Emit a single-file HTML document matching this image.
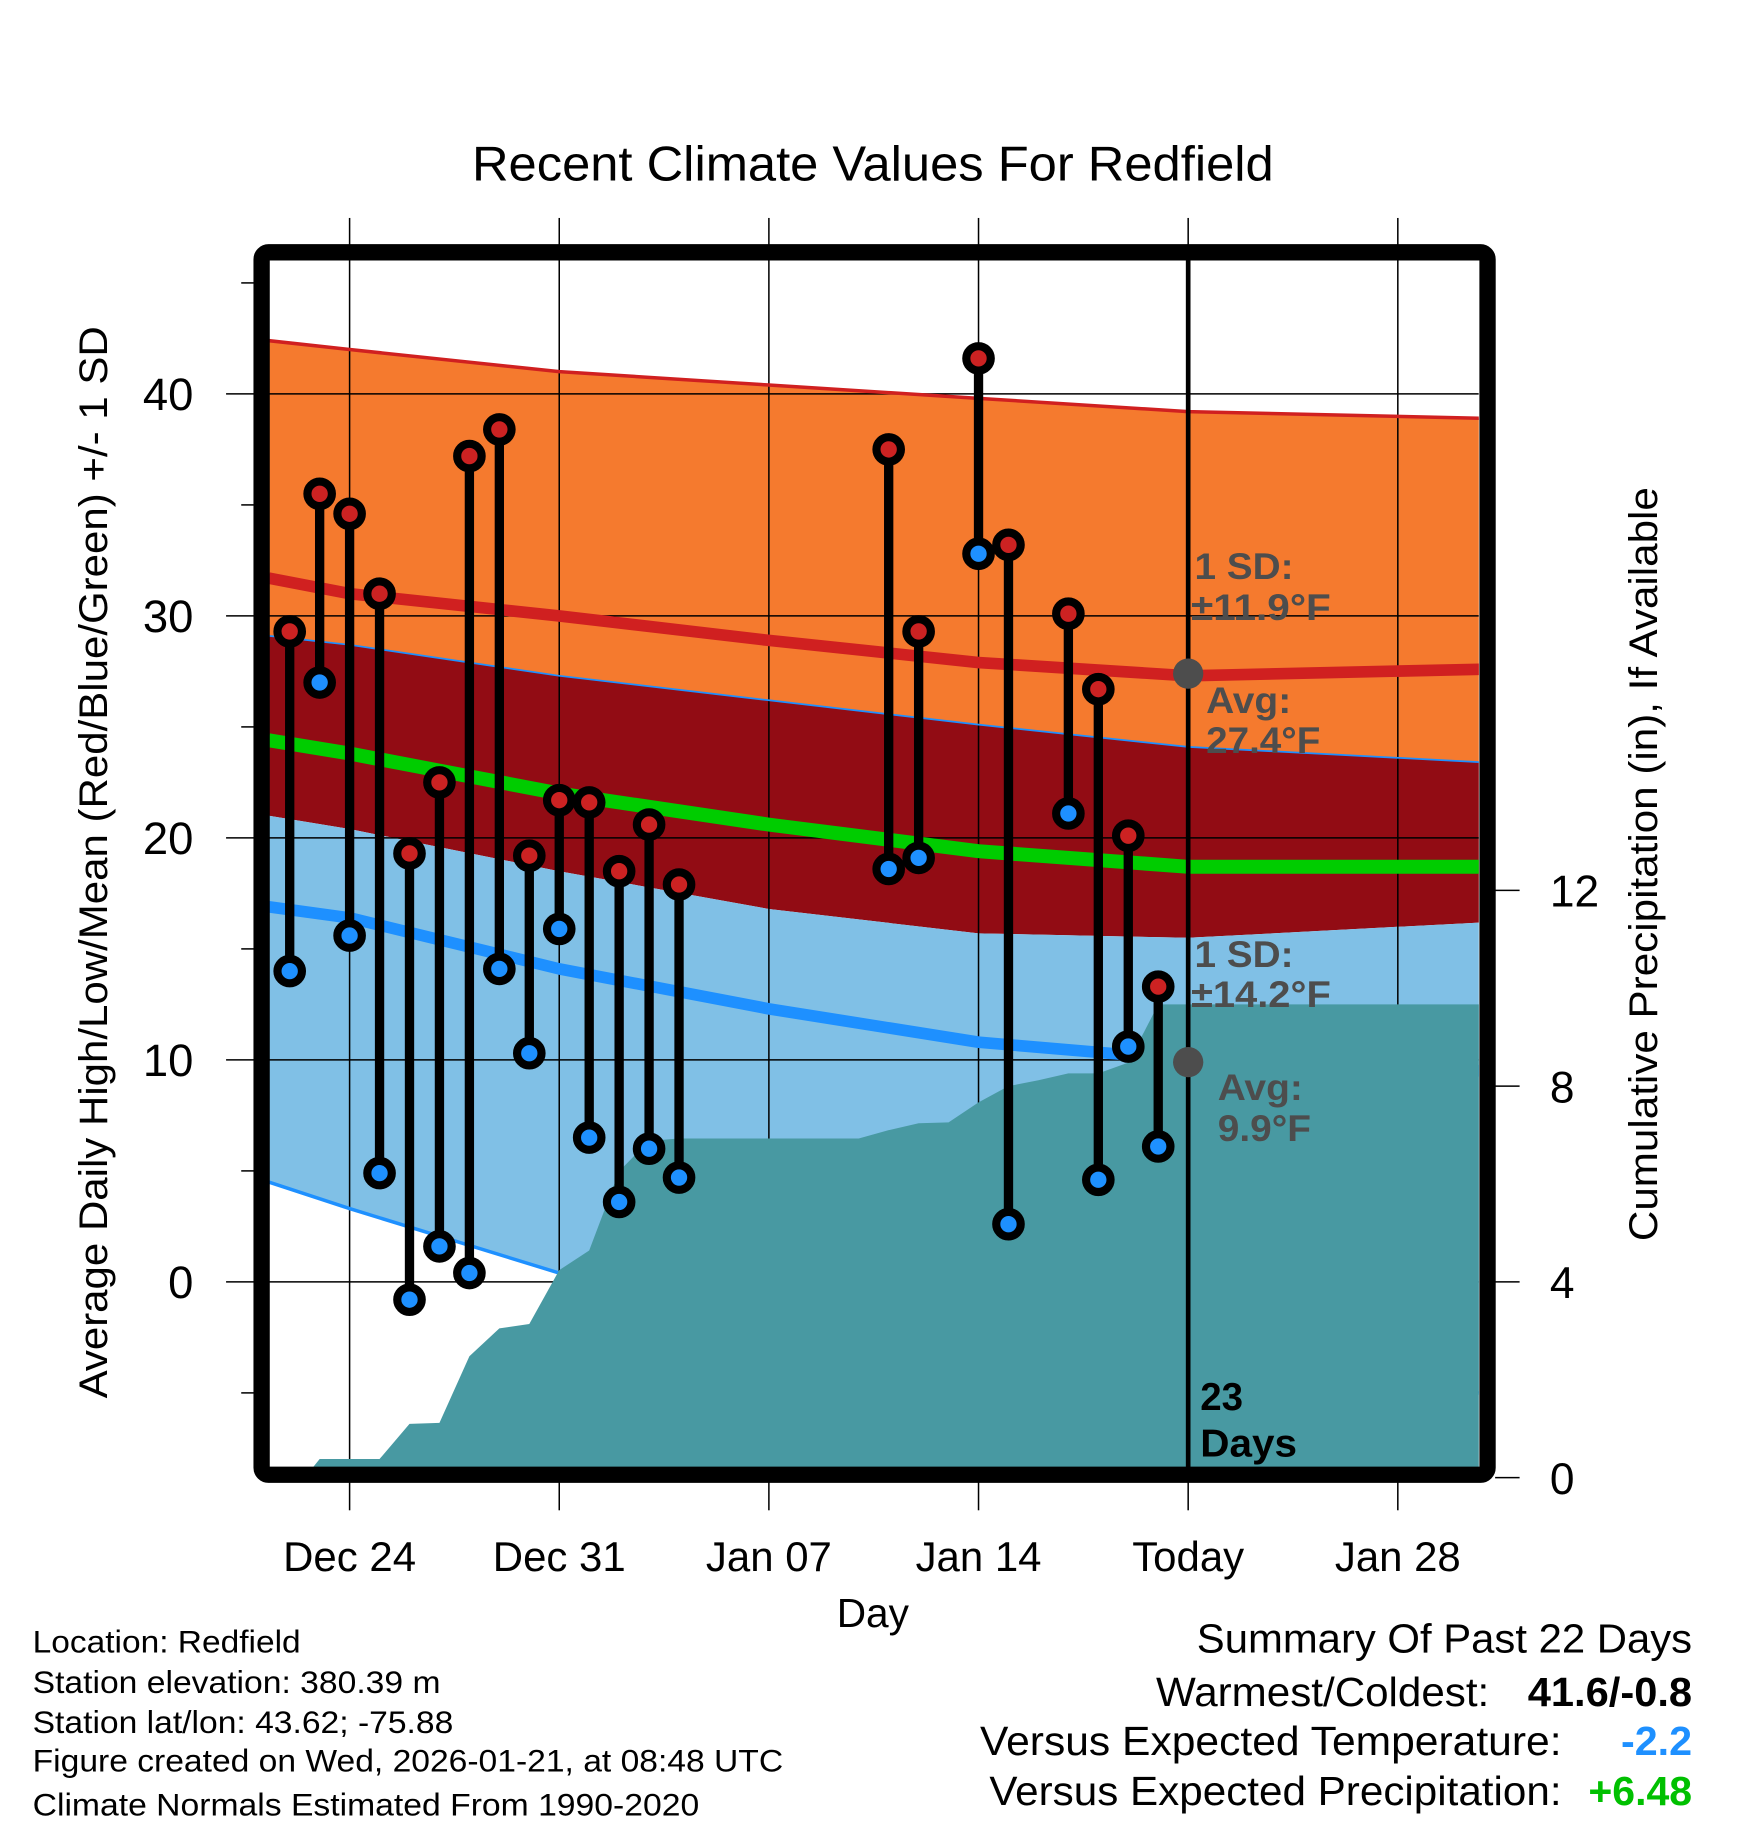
<!DOCTYPE html>
<html><head><meta charset="utf-8">
<style>
html,body{margin:0;padding:0;background:#fff;}
svg{display:block;font-family:"Liberation Sans",Arial,sans-serif;}
</style></head>
<body>
<svg id="chart" width="1748" height="1828" viewBox="0 0 1500 1568.6" xmlns="http://www.w3.org/2000/svg">
<defs><clipPath id="plotclip"><rect x="231" y="223" width="1038" height="1036"/></clipPath></defs>
<rect x="0" y="0" width="1500" height="1569" fill="#fff"/>
<text x="405" y="155" font-size="42" textLength="688" lengthAdjust="spacingAndGlyphs">Recent Climate Values For Redfield</text>
<g id="bands" clip-path="url(#plotclip)"></g>
<g id="grid" clip-path="url(#plotclip)"></g>
<g id="lines" clip-path="url(#plotclip)"></g>
<g id="precip" clip-path="url(#plotclip)"></g>
<g id="ticks"></g>
<g id="marks" clip-path="url(#plotclip)"></g>
<g id="annot" font-weight="bold" fill="#4d4d4d" font-size="32">
  <text x="1025" y="497" textLength="85" lengthAdjust="spacingAndGlyphs">1 SD:</text>
  <text x="1022" y="532" textLength="120" lengthAdjust="spacingAndGlyphs">±11.9°F</text>
  <text x="1035" y="612" textLength="73" lengthAdjust="spacingAndGlyphs">Avg:</text>
  <text x="1035" y="646" textLength="98" lengthAdjust="spacingAndGlyphs">27.4°F</text>
  <text x="1025" y="830" textLength="85" lengthAdjust="spacingAndGlyphs">1 SD:</text>
  <text x="1022" y="864" textLength="120" lengthAdjust="spacingAndGlyphs">±14.2°F</text>
  <text x="1045" y="944" textLength="73" lengthAdjust="spacingAndGlyphs">Avg:</text>
  <text x="1045" y="979" textLength="80" lengthAdjust="spacingAndGlyphs">9.9°F</text>
</g>
<g font-weight="bold" font-size="33" fill="#000">
  <text x="1030" y="1210">23</text>
  <text x="1030" y="1250" textLength="83" lengthAdjust="spacingAndGlyphs">Days</text>
</g>
<rect x="224.5" y="216.5" width="1052" height="1049" rx="6" fill="none" stroke="#000" stroke-width="14"/>
<text transform="translate(92,1200) rotate(-90)" font-size="34" textLength="920" lengthAdjust="spacingAndGlyphs">Average Daily High/Low/Mean (Red/Blue/Green) +/- 1 SD</text>
<text transform="translate(1422,1065) rotate(-90)" font-size="34" textLength="647" lengthAdjust="spacingAndGlyphs">Cumulative Precipitation (in), If Available</text>
<text x="718" y="1396" font-size="35" textLength="62" lengthAdjust="spacingAndGlyphs">Day</text>
<g font-size="27">
  <text x="28" y="1418" textLength="230" lengthAdjust="spacingAndGlyphs">Location: Redfield</text>
  <text x="28" y="1453" textLength="350" lengthAdjust="spacingAndGlyphs">Station elevation: 380.39 m</text>
  <text x="28" y="1487" textLength="361" lengthAdjust="spacingAndGlyphs">Station lat/lon: 43.62; -75.88</text>
  <text x="28" y="1520" textLength="644" lengthAdjust="spacingAndGlyphs">Figure created on Wed, 2026-01-21, at 08:48 UTC</text>
  <text x="28" y="1558" textLength="572" lengthAdjust="spacingAndGlyphs">Climate Normals Estimated From 1990-2020</text>
</g>
<g font-size="35">
  <text x="1027" y="1418" textLength="425" lengthAdjust="spacingAndGlyphs">Summary Of Past 22 Days</text>
  <text x="992" y="1464" textLength="286" lengthAdjust="spacingAndGlyphs">Warmest/Coldest:</text>
  <text x="1311" y="1464" font-weight="bold" textLength="141" lengthAdjust="spacingAndGlyphs">41.6/-0.8</text>
  <text x="841" y="1506" textLength="499" lengthAdjust="spacingAndGlyphs">Versus Expected Temperature:</text>
  <text x="1391" y="1506" font-weight="bold" fill="#1e90ff" textLength="61" lengthAdjust="spacingAndGlyphs">-2.2</text>
  <text x="849" y="1549" textLength="491" lengthAdjust="spacingAndGlyphs">Versus Expected Precipitation:</text>
  <text x="1363" y="1549" font-weight="bold" fill="#00c000" textLength="89" lengthAdjust="spacingAndGlyphs">+6.48</text>
</g>
</svg>
<script>
// Data (day offsets relative to Dec 24)
const normDays = [-2.7, 0, 7, 14, 21, 28, 37.9];
const topLine = [42.4, 42.0, 41.0, 40.4, 39.8, 39.2, 38.9];
const meanHigh = [31.7, 31.0, 30.0, 28.9, 27.9, 27.3, 27.6];
const highMinusSD = [29.1, 28.7, 27.3, 26.2, 25.1, 24.1, 23.4];
const meanTemp = [24.4, 23.8, 22.0, 20.6, 19.4, 18.7, 18.7];
const lowPlusSD = [21.0, 20.4, 18.5, 16.8, 15.7, 15.5, 16.2];
const meanLow = [16.9, 16.4, 14.1, 12.3, 10.8, 10.0, 9.5];
const lowMinusSD = [4.5, 3.3, 0.4, -2.0, -4.0, -5.0, -5.0];
const obsDays = [-2,-1,0,1,2,3,4,5,6,7,8,9,10,11,18,19,21,22,24,25,26,27];
const highs = [29.3,35.5,34.6,31.0,19.3,22.5,37.2,38.4,19.2,21.7,21.6,18.5,20.6,17.9,37.5,29.3,41.6,33.2,30.1,26.7,20.1,13.3];
const lows = [14.0,27.0,15.6,4.9,-0.8,1.6,0.4,14.1,10.3,15.9,6.5,3.6,6.0,4.7,18.6,19.1,32.8,2.6,21.1,4.6,10.6,6.1];
const precipDays = [-1.5,-1,0,1,2,3,4,5,6,7,8,9,10,11,17,18,19,20,21,22,23,24,25,26,27,28,38];
const precipVals = [0,0.38,0.38,0.38,1.1,1.12,2.48,3.05,3.14,4.24,4.64,6.26,6.88,6.93,6.93,7.1,7.24,7.26,7.67,8.0,8.12,8.26,8.26,8.48,9.67,9.67,9.67];
const xTickDays = [0,7,14,21,28,35];
const xTickLabels = ["Dec 24","Dec 31","Jan 07","Jan 14","Today","Jan 28"];
const yTicks = [0,10,20,30,40];
const yMinor = [-5,5,15,25,35,45];
const y2Ticks = [0,4,8,12];
const todayDay = 28;
const todayHighAvg = 27.4, todayLowAvg = 9.9;

const X = d => 300 + d*25.7;
const Y = v => 1100 - v*19.05;
const Y2 = p => 1268 - p*42;
const NS = "http://www.w3.org/2000/svg";
function mk(tag, parent, attrs){const e=document.createElementNS(NS,tag);for(const k in attrs)e.setAttribute(k,attrs[k]);document.getElementById(parent).appendChild(e);return e;}
function pts(ds,vs,f){return ds.map((d,i)=>X(d).toFixed(1)+","+f(vs[i]).toFixed(1));}
function band(a,b){return pts(normDays,a,Y).concat(pts(normDays,b,Y).reverse()).join(" ");}

let e;
e=mk("polygon","bands",{points:band(topLine,highMinusSD),fill:"#f57a2e"});


e=mk("polygon","bands",{points:band(highMinusSD,lowPlusSD),fill:"#920c14"});


e=mk("polygon","bands",{points:band(lowPlusSD,lowMinusSD),fill:"#80c0e6"});



xTickDays.forEach(d=>{e=mk("line","grid",{x1:X(d),x2:X(d),y1:223,y2:1259,stroke:"#000","stroke-width":1.3});

});
yTicks.forEach(v=>{e=mk("line","grid",{x1:231,x2:1269,y1:Y(v),y2:Y(v),stroke:"#000","stroke-width":1.3});

});

function line(vals,color,w,name){e=mk("polyline","lines",{points:pts(normDays,vals,Y).join(" "),fill:"none",stroke:color,"stroke-width":w,"stroke-linejoin":"round"});

}
line(topLine,"#d02020",3,"upper-sd-line");
line(highMinusSD,"#1e90ff",1.5,"high-minus-sd-line");
line(lowMinusSD,"#1e90ff",3,"lower-sd-line");
line(meanHigh,"#d02020",10,"mean-high-line");
line(meanTemp,"#00cc00",12,"mean-temp-line");
line(meanLow,"#1e90ff",10,"mean-low-line");

const pp = pts(precipDays,precipVals,Y2);
pp.push(X(precipDays[precipDays.length-1]).toFixed(1)+","+Y2(0)); pp.push(X(precipDays[0]).toFixed(1)+","+Y2(0));
e=mk("polygon","precip",{points:pp.join(" "),fill:"#4899a2"});



xTickDays.forEach((d,i)=>{
 e=mk("line","ticks",{x1:X(d),x2:X(d),y1:187,y2:210,stroke:"#000","stroke-width":1.3});
 
 
 e=mk("line","ticks",{x1:X(d),x2:X(d),y1:1272,y2:1296,stroke:"#000","stroke-width":1.3});
 
 
 e=mk("text","ticks",{x:X(d),y:1348,"font-size":36,"text-anchor":"middle"});
 e.textContent=xTickLabels[i];
 
 
});
yTicks.forEach(v=>{
 e=mk("line","ticks",{x1:194,x2:218,y1:Y(v),y2:Y(v),stroke:"#000","stroke-width":1.3});
 
 
 e=mk("text","ticks",{x:166,y:Y(v)+14,"font-size":39,"text-anchor":"end"});
 e.textContent=String(v);
 
 
});
yMinor.forEach(v=>{
 e=mk("line","ticks",{x1:207,x2:218,y1:Y(v),y2:Y(v),stroke:"#000","stroke-width":1.3});
 
 
});
y2Ticks.forEach(p=>{
 e=mk("line","ticks",{x1:1283,x2:1304,y1:Y2(p),y2:Y2(p),stroke:"#000","stroke-width":1.3});
 
 
 e=mk("text","ticks",{x:1330,y:Y2(p)+14,"font-size":38,"text-anchor":"start"});
 e.textContent=String(p);
 
 
});

e=mk("line","marks",{x1:X(todayDay),x2:X(todayDay),y1:223,y2:1259,stroke:"#000","stroke-width":4});


e=mk("circle","marks",{cx:X(todayDay),cy:Y(todayHighAvg),r:13,fill:"#4d4d4d"});


e=mk("circle","marks",{cx:X(todayDay),cy:Y(todayLowAvg),r:13,fill:"#4d4d4d"});



obsDays.forEach((d,i)=>{
 e=mk("line","marks",{x1:X(d),x2:X(d),y1:Y(highs[i]),y2:Y(lows[i]),stroke:"#000","stroke-width":8});
 
 
 e=mk("circle","marks",{cx:X(d),cy:Y(highs[i]),r:10.5,fill:"#cc2222",stroke:"#000","stroke-width":7});
 
 
 e=mk("circle","marks",{cx:X(d),cy:Y(lows[i]),r:10.5,fill:"#1e90ff",stroke:"#000","stroke-width":7});
 
 
});
</script>
</body></html>
